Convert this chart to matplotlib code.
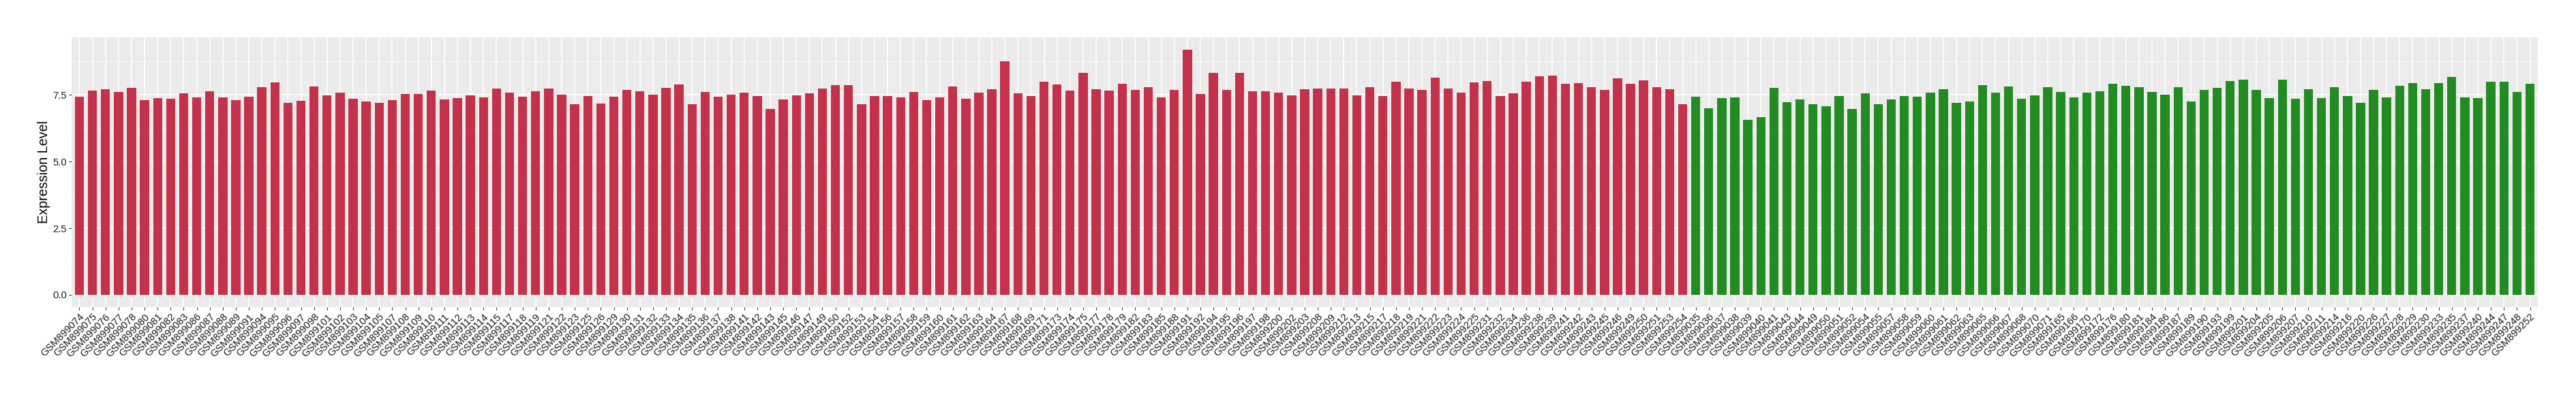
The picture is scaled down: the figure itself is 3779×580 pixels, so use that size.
import numpy as np
import matplotlib
matplotlib.use("Agg")
import matplotlib.pyplot as plt

# Muestras del grupo rojo (tumor) y sus niveles de expresión
muestras_rojo = [
    "GSM899074", "GSM899075", "GSM899076", "GSM899077", "GSM899078", "GSM899080", "GSM899081", "GSM899082", "GSM899083", "GSM899086",
    "GSM899087", "GSM899088", "GSM899089", "GSM899091", "GSM899094", "GSM899095", "GSM899096", "GSM899097", "GSM899098", "GSM899101",
    "GSM899102", "GSM899103", "GSM899104", "GSM899105", "GSM899107", "GSM899108", "GSM899109", "GSM899110", "GSM899111", "GSM899112",
    "GSM899113", "GSM899114", "GSM899115", "GSM899117", "GSM899118", "GSM899119", "GSM899121", "GSM899122", "GSM899123", "GSM899125",
    "GSM899126", "GSM899129", "GSM899130", "GSM899131", "GSM899132", "GSM899133", "GSM899134", "GSM899135", "GSM899136", "GSM899137",
    "GSM899138", "GSM899141", "GSM899142", "GSM899143", "GSM899145", "GSM899146", "GSM899147", "GSM899149", "GSM899150", "GSM899152",
    "GSM899153", "GSM899154", "GSM899156", "GSM899157", "GSM899158", "GSM899159", "GSM899160", "GSM899161", "GSM899162", "GSM899163",
    "GSM899164", "GSM899167", "GSM899168", "GSM899169", "GSM899171", "GSM899173", "GSM899174", "GSM899175", "GSM899177", "GSM899178",
    "GSM899179", "GSM899182", "GSM899183", "GSM899185", "GSM899188", "GSM899191", "GSM899192", "GSM899194", "GSM899195", "GSM899196",
    "GSM899197", "GSM899198", "GSM899200", "GSM899202", "GSM899203", "GSM899208", "GSM899209", "GSM899212", "GSM899213", "GSM899215",
    "GSM899217", "GSM899218", "GSM899219", "GSM899221", "GSM899222", "GSM899223", "GSM899224", "GSM899225", "GSM899231", "GSM899232",
    "GSM899234", "GSM899236", "GSM899238", "GSM899239", "GSM899241", "GSM899242", "GSM899243", "GSM899245", "GSM899246", "GSM899249",
    "GSM899250", "GSM899251", "GSM899253", "GSM899254"]

expresion_rojo = [
    7.42, 7.65, 7.70, 7.60, 7.76, 7.30, 7.37, 7.35, 7.55, 7.40,
    7.63, 7.40, 7.30, 7.42, 7.78, 7.96, 7.19, 7.27, 7.81, 7.47,
    7.58, 7.35, 7.24, 7.19, 7.30, 7.53, 7.53, 7.65, 7.32, 7.37,
    7.47, 7.40, 7.73, 7.58, 7.42, 7.63, 7.73, 7.50, 7.14, 7.45,
    7.17, 7.42, 7.68, 7.63, 7.50, 7.76, 7.88, 7.14, 7.60, 7.42,
    7.50, 7.58, 7.45, 6.96, 7.32, 7.47, 7.55, 7.73, 7.86, 7.86,
    7.14, 7.45, 7.45, 7.40, 7.60, 7.30, 7.40, 7.81, 7.35, 7.58,
    7.70, 8.75, 7.55, 7.45, 7.99, 7.88, 7.65, 8.32, 7.70, 7.65,
    7.91, 7.68, 7.78, 7.40, 7.68, 9.19, 7.53, 8.32, 7.68, 8.32,
    7.63, 7.63, 7.58, 7.47, 7.70, 7.73, 7.73, 7.73, 7.47, 7.78,
    7.45, 7.99, 7.73, 7.68, 8.14, 7.73, 7.58, 7.96, 8.01, 7.45,
    7.55, 7.99, 8.19, 8.22, 7.91, 7.94, 7.78, 7.68, 8.11, 7.91,
    8.04, 7.78, 7.70, 7.14]

# Muestras del grupo verde (normal)
muestras_verde = [
    "GSM899035", "GSM899036", "GSM899037", "GSM899038", "GSM899039", "GSM899040", "GSM899041", "GSM899043", "GSM899044", "GSM899049",
    "GSM899050", "GSM899051", "GSM899052", "GSM899054", "GSM899055", "GSM899057", "GSM899058", "GSM899059", "GSM899060", "GSM899061",
    "GSM899062", "GSM899063", "GSM899065", "GSM899066", "GSM899067", "GSM899068", "GSM899070", "GSM899071",
    "GSM899165", "GSM899166", "GSM899170", "GSM899172", "GSM899176", "GSM899180", "GSM899181", "GSM899184", "GSM899186", "GSM899187",
    "GSM899189", "GSM899190", "GSM899193", "GSM899199", "GSM899201", "GSM899204", "GSM899205", "GSM899206", "GSM899207", "GSM899210",
    "GSM899211", "GSM899214", "GSM899216", "GSM899220", "GSM899226", "GSM899227", "GSM899228", "GSM899229", "GSM899230", "GSM899233",
    "GSM899235", "GSM899237", "GSM899240", "GSM899244", "GSM899247", "GSM899248", "GSM899252"]

expresion_verde = [
    7.42, 6.99, 7.37, 7.40, 6.55, 6.66, 7.76, 7.22, 7.32, 7.14,
    7.06, 7.45, 6.96, 7.55, 7.14, 7.32, 7.45, 7.42, 7.58, 7.70,
    7.19, 7.24, 7.86, 7.58, 7.81, 7.35, 7.47, 7.78,
    7.60, 7.40, 7.58, 7.63, 7.91, 7.83, 7.78, 7.60, 7.50, 7.78,
    7.24, 7.68, 7.76, 8.01, 8.06, 7.68, 7.37, 8.06, 7.35, 7.70,
    7.37, 7.78, 7.45, 7.19, 7.68, 7.40, 7.83, 7.94, 7.70, 7.94,
    8.17, 7.40, 7.37, 7.99, 7.99, 7.60, 7.91]

color_rojo = "#C3314A"
color_verde = "#228B22"

#***************************************************************
muestras = muestras_rojo + muestras_verde
valores = expresion_rojo + expresion_verde
colores = [color_rojo] * len(muestras_rojo) + [color_verde] * len(muestras_verde)
x = np.arange(len(muestras))

plt.rcParams['font.family'] = ['Liberation Sans', 'DejaVu Sans']

fig = plt.figure(figsize=(37.8, 5.8), dpi=100)
ax = fig.add_axes([105 / 3780, 1 - 451 / 580, (3723 - 105) / 3780, (451 - 55) / 580])

ax.set_facecolor("#EBEBEB")
ax.bar(x, valores, width=0.7, color=colores, zorder=3)

##Ejes estilo ggplot
ax.set_xlim(-0.6, len(muestras) - 0.4)
ymax = max(valores)
ax.set_ylim(-0.05 * ymax, 1.05 * ymax)
ax.set_yticks([0, 2.5, 5.0, 7.5])
ax.set_yticklabels(["0.0", "2.5", "5.0", "7.5"])
ax.set_yticks([1.25, 3.75, 6.25, 8.75], minor=True)
ax.set_xticks(x)
ax.set_xticklabels(muestras, rotation=45, ha="right", va="top", rotation_mode="anchor")

ax.grid(which="major", color="white", linewidth=1.1, zorder=0)
ax.grid(which="minor", axis="y", color="white", linewidth=0.55, zorder=0)
ax.set_axisbelow(True)
for s in ax.spines.values():
    s.set_visible(False)

ax.tick_params(axis="both", which="major", length=3, width=0.8, color="#333333",
               labelsize=10.6, labelcolor="#1A1A1A", pad=2)
ax.tick_params(axis="y", which="minor", length=0)

ax.set_ylabel("Expression Level", fontsize=14.2, color="black")
ax.yaxis.set_label_coords(-0.0085, 0.5)

fig.savefig("out.png", dpi=100)
